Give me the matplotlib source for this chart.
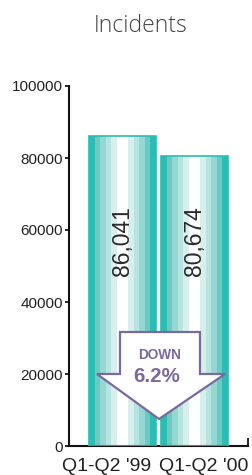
import matplotlib
matplotlib.use("Agg")
import matplotlib.pyplot as plt
from matplotlib.patches import Polygon

categories = ["Q1-Q2 '99", "Q1-Q2 '00"]
values = [86041, 80674]
value_labels = ["86,041", "80,674"]
yticks = [0, 20000, 40000, 60000, 80000, 100000]
title = "Incidents"
change_label = "DOWN"
change_value = "6.2%"

stripe_colors = ["#2bbdb3", "#6dcac3", "#95d8d3", "#b7e4e1", "#d7efed", "#ffffff",
                 "#ffffff", "#d7efed", "#b7e4e1", "#95d8d3", "#6dcac3", "#2bbdb3"]
teal = "#2bbdb3"
purple = "#7a6a9c"

fig = plt.figure(figsize=(2.52, 4.75), dpi=100)
ax = fig.add_axes([69/252, 29/475, 179/252, 360/475])

xs = list(range(len(categories)))
bw = 0.93
n = len(stripe_colors)
sw = bw / n
for x, v in zip(xs, values):
    for i, c in enumerate(stripe_colors):
        ax.bar(x - bw/2 + (i + 0.5) * sw, v, width=sw, color=c, linewidth=0, zorder=2)
    ax.bar(x, v, width=bw, facecolor="none", edgecolor=teal, linewidth=1.2, zorder=3)

for x, lbl in zip(xs, value_labels):
    ax.text(x, 57000, lbl, rotation=90, ha="center", va="center",
            fontsize=16.5, color="#2a2a2a", family="Liberation Sans", zorder=4)

ax.set_xlim(-0.743, 1.743)
ax.set_ylim(0, 100000)
ax.set_yticks(yticks)
ax.set_yticklabels([str(t) for t in yticks], family="Liberation Sans", fontsize=11, color="#222222")
ax.tick_params(axis="y", direction="out", length=3, width=1.2, pad=1.5)
# category labels (offset as in the reference)
ax.set_xticks([])
label_offsets = [-0.215, 0.13]
for x, off, lbl in zip(xs, label_offsets, categories):
    ax.text(x + off, -0.058, lbl, transform=ax.get_xaxis_transform(), ha="center", va="center",
            family="Liberation Sans", fontsize=14, color="#222222", clip_on=False)
ax.set_xticks([1.743], minor=True)
ax.tick_params(axis="x", which="minor", direction="in", length=6, width=1.2, labelbottom=False)

for s in ["top", "right"]:
    ax.spines[s].set_visible(False)
for s in ["left", "bottom"]:
    ax.spines[s].set_linewidth(1.5)
    ax.spines[s].set_color("#111111")

# down arrow annotation
arrow = [(-0.035, 31667), (1.076, 31667), (1.076, 20000), (1.424, 20000),
         (0.507, 7500), (-0.354, 20000), (-0.035, 20000)]
ax.add_patch(Polygon(arrow, closed=True, facecolor="white", edgecolor=purple,
                     linewidth=1.6, zorder=5))
ax.text(0.52, 25300, change_label, ha="center", va="center", fontsize=9.8,
        fontweight="bold", color=purple, family="Liberation Sans", zorder=6)
ax.text(0.47, 19300, change_value, ha="center", va="center", fontsize=14.8,
        fontweight="bold", color=purple, family="Liberation Sans", zorder=6)

fig.text(140.5/252, 1 - 31.7/475, title, ha="center", va="baseline", fontsize=16.5,
         color="#444444", family=["Open Sans"], fontweight="light")

fig.savefig("out.png", dpi=100)
